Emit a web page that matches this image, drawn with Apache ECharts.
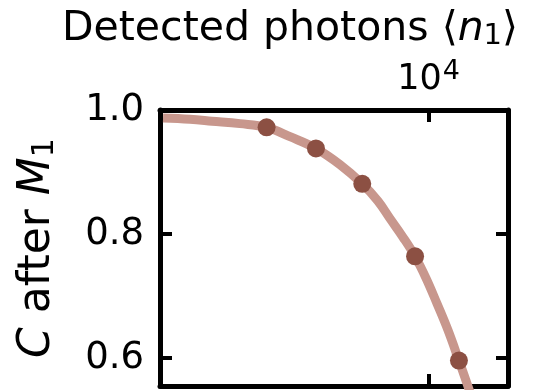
<!DOCTYPE html>
<html>
<head>
<meta charset="utf-8">
<script src="https://cdn.jsdelivr.net/npm/echarts@6/dist/echarts.min.js"></script>
<style>
  html, body { margin: 0; padding: 0; background: #fff; }
  #chart { width: 534px; height: 390px; }
</style>
</head>
<body>
<div id="chart"></div>
<script>
// measured points: detected photons vs coherence after M1
const photons = [3120, 4450, 6210, 9080, 12450];
const coherence = [0.972, 0.938, 0.881, 0.764, 0.596];

// fitted curve
const curvePhotons = [1481, 1798, 2106, 2576, 3120, 3692, 4450, 5289, 6210, 6954, 7580, 8322, 9080, 9822, 10630, 11506, 12450, 13484];
const curveCoherence = [0.987, 0.985, 0.982, 0.978, 0.972, 0.957, 0.938, 0.912, 0.881, 0.853, 0.825, 0.795, 0.764, 0.729, 0.688, 0.645, 0.596, 0.545];

const xTicks = [10000];
const yTicks = [0.6, 0.8, 1.0];

const font = "DejaVu Sans";
const axisColor = "#000";

function xAxis(pos, showLabel) {
  return {
    type: "log",
    position: pos,
    min: 1449,
    max: 17720,
    axisLine: { show: true, onZero: false, lineStyle: { color: axisColor, width: 5 } },
    axisTick: { show: true, inside: true, length: 12, lineStyle: { color: axisColor, width: 4 }, customValues: xTicks },
    axisLabel: {
      show: showLabel,
      customValues: xTicks,
      margin: 9,
      formatter: (v) => "{b|10}{s|" + Math.round(Math.log10(v)) + "}",
      rich: {
        b: { fontFamily: font, fontSize: 35, color: "#000" },
        s: { fontFamily: font, fontSize: 27, color: "#000", verticalAlign: "top", padding: [0, 0, 16, 1] }
      }
    },
    splitLine: { show: false },
    minorTick: { show: false }
  };
}

function yAxis(pos, showLabel) {
  return {
    type: "value",
    position: pos,
    min: 0.555,
    max: 1.0,
    axisLine: { show: true, onZero: false, lineStyle: { color: axisColor, width: 5 } },
    axisTick: { show: true, inside: true, length: 12, lineStyle: { color: axisColor, width: 4 }, customValues: [0.6, 0.8] },
    axisLabel: {
      show: showLabel,
      customValues: yTicks,
      margin: 16,
      fontFamily: font,
      fontSize: 37,
      color: "#000",
      formatter: (v) => v.toFixed(1)
    },
    splitLine: { show: false }
  };
}

const chart = echarts.init(document.getElementById("chart"), null, { renderer: "canvas" });

const yMain = yAxis("left", true);
yMain.name = "{i|C} after {i|M}{sub|1}";
yMain.nameLocation = "middle";
yMain.nameGap = 100;
yMain.nameTextStyle = {
  fontFamily: font,
  fontSize: 44,
  color: "#000",
  rich: {
    i: { fontFamily: font, fontSize: 44, fontStyle: "italic", color: "#000" },
    sub: { fontFamily: font, fontSize: 30, color: "#000", verticalAlign: "bottom", padding: [15, 0, 0, 0] }
  }
};

chart.setOption({
  animation: false,
  backgroundColor: "#fff",
  title: {
    text: "Detected photons ⟨{i|n}{sub|1}⟩",
    left: 57,
    top: 2,
    textStyle: {
      fontFamily: font,
      fontSize: 41,
      fontWeight: "normal",
      color: "#000",
      rich: {
        i: { fontFamily: font, fontSize: 41, fontStyle: "italic", color: "#000" },
        sub: { fontFamily: font, fontSize: 29, color: "#000", verticalAlign: "bottom", padding: [15, 0, 0, 0] }
      }
    }
  },
  grid: { left: 160, right: 26, top: 110, bottom: 4, containLabel: false, outerBoundsMode: "none" },
  xAxis: [xAxis("top", true), xAxis("bottom", false)],
  yAxis: [yMain, yAxis("right", false)],
  series: [
    {
      type: "line",
      data: curvePhotons.map((x, i) => [x, curveCoherence[i]]),
      smooth: 0.4,
      showSymbol: false,
      clip: true,
      lineStyle: { color: "#c8978d", width: 9 },
      z: 2
    },
    {
      type: "scatter",
      data: photons.map((x, i) => [x, coherence[i]]),
      symbolSize: 18,
      itemStyle: { color: "#8c5043", opacity: 1 },
      z: 3
    }
  ]
});
</script>
</body>
</html>
